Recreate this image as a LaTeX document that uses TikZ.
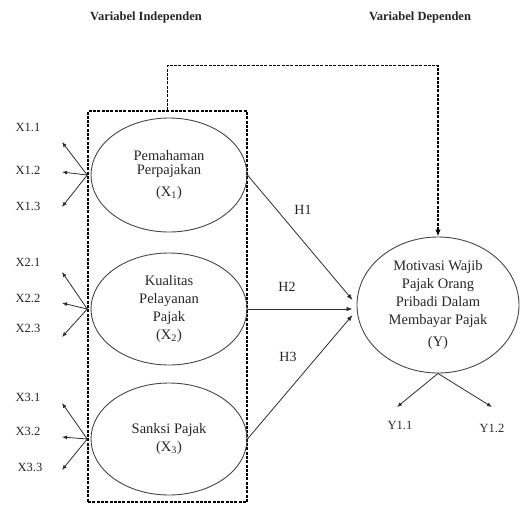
\documentclass[tikz,border=0pt]{standalone}
\usepackage{fontspec}
\setmainfont{Liberation Serif}
\usepackage{xcolor}
\usetikzlibrary{shapes.geometric, arrows.meta, positioning}

\tikzset{
  header/.style={font=\fontsize{12.5}{14}\selectfont\bfseries, text=black!85},
  lbl/.style={font=\fontsize{12.5}{15}\selectfont, text=black!85},
  varell/.style={ellipse, draw=gray!55!black, line width=0.9pt, inner sep=1pt, align=center, font=\fontsize{14.5}{18}\selectfont, text=black!85},
  dashbox/.style={draw=black, line width=1.5pt, dash pattern=on 3pt off 1.3pt, inner sep=0pt},
  dashline/.style={draw=black, line width=1.5pt, dash pattern=on 3pt off 1.3pt},
  ind/.style={draw=gray!35!black, line width=0.8pt, -{Latex[length=5pt,width=4pt]}},
  hyp/.style={draw=gray!35!black, line width=0.8pt, -{Latex[length=6pt,width=4.5pt]}}
}

\begin{document}
\begin{tikzpicture}[x=1pt, y=-1pt]
\useasboundingbox (0,0) rectangle (528,504);
% Headers
\node[header] (hind) at (146,17) {Variabel Independen};
\node[header] (hdep) at (420,17) {Variabel Dependen};
% Independent variables
\node[dashbox, minimum width=159pt, minimum height=391pt] (indep) at (167.5,306.5) {};
\node[varell, minimum width=156pt, minimum height=114pt] (x1) at (169,175) {Pemahaman\\[-4pt]Perpajakan\\[4pt](X\textsubscript{1})};
\node[varell, minimum width=156pt, minimum height=112pt] (x2) at (169,309) {Kualitas\\Pelayanan\\Pajak\\(X\textsubscript{2})};
\node[varell, minimum width=156pt, minimum height=112pt] (x3) at (169,439) {Sanksi Pajak\\(X\textsubscript{3})};
% Dependent variable
\node[varell, minimum width=162pt, minimum height=136pt] (y) at (438,305) {Motivasi Wajib\\Pajak Orang\\Pribadi Dalam\\Membayar Pajak\\[4pt](Y)};
% Simultaneous link
\draw[dashline, -{Latex[length=7pt,width=5.5pt]}] (indep.north) -- ++(0,-45) -| (y.north);
% Indicators X1
\coordinate (t11) at (62,142);
\coordinate (t12) at (62,172);
\coordinate (t13) at (62,207);
\draw[ind] (indep.west |- x1.west) -- (t11);
\draw[ind] (indep.west |- x1.west) -- (t12);
\draw[ind] (indep.west |- x1.west) -- (t13);
\node[lbl] (l11) at (28,127) {X1.1};
\node[lbl] (l12) at (28,170) {X1.2};
\node[lbl] (l13) at (28,206) {X1.3};
% Indicators X2
\coordinate (t21) at (62,272);
\coordinate (t22) at (62,303);
\coordinate (t23) at (62,337);
\draw[ind] (indep.west |- x2.west) -- (t21);
\draw[ind] (indep.west |- x2.west) -- (t22);
\draw[ind] (indep.west |- x2.west) -- (t23);
\node[lbl] (l21) at (28,262) {X2.1};
\node[lbl] (l22) at (28,298) {X2.2};
\node[lbl] (l23) at (28,328) {X2.3};
% Indicators X3
\coordinate (t31) at (62,403);
\coordinate (t32) at (62,437);
\coordinate (t33) at (62,470);
\draw[ind] (indep.west |- x3.west) -- (t31);
\draw[ind] (indep.west |- x3.west) -- (t32);
\draw[ind] (indep.west |- x3.west) -- (t33);
\node[lbl] (l31) at (28,397) {X3.1};
\node[lbl] (l32) at (28,431) {X3.2};
\node[lbl] (l33) at (30,467) {X3.3};
% Hypotheses
\draw[hyp] (x1.east) -- ([xshift=-4pt,yshift=5pt]y.west);
\draw[hyp] (x2.east) -- ([xshift=-4pt,yshift=-4pt]y.west);
\draw[hyp] (x3.east) -- ([xshift=-4pt,yshift=-10pt]y.west);
\node[lbl, font=\fontsize{14}{16}\selectfont] (h1) at (303,210) {H1};
\node[lbl, font=\fontsize{14}{16}\selectfont] (h2) at (287,287) {H2};
\node[lbl, font=\fontsize{14}{16}\selectfont] (h3) at (288,357) {H3};
% Indicators Y
\coordinate (ty1) at (397,407);
\coordinate (ty2) at (492,407);
\draw[ind] (y.south) -- (ty1);
\draw[ind] (y.south) -- (ty2);
\node[lbl] (ly1) at (400,425) {Y1.1};
\node[lbl] (ly2) at (492,428) {Y1.2};
\end{tikzpicture}
\end{document}
